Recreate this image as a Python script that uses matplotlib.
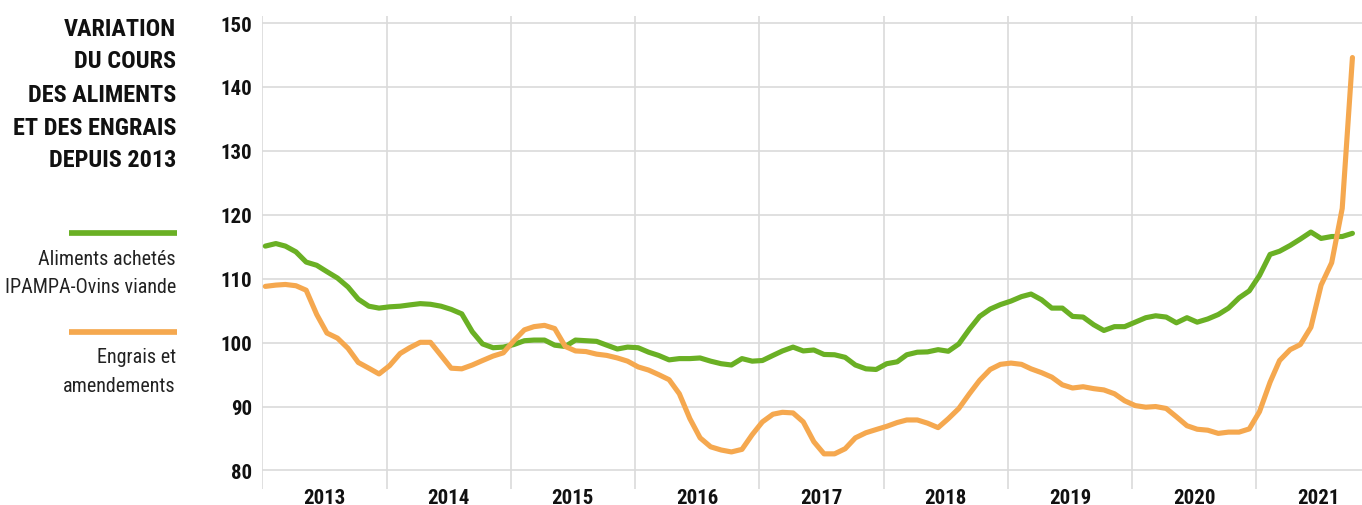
import numpy as np
import pandas as pd
import matplotlib
matplotlib.use("Agg")
import matplotlib.pyplot as plt
from matplotlib import font_manager
from matplotlib.lines import Line2D

FIG_W, FIG_H = 1362, 506

# monthly index values, Jan 2013 -> Oct 2021
MONTHS = pd.date_range("2013-01-01", periods=106, freq="MS") + pd.Timedelta(days=9)

ALIMENTS = [115.1, 115.5, 115.1, 114.2, 112.6, 112.1, 111.1, 110.1, 108.7, 106.8, 105.7, 105.4,
	105.6, 105.7, 105.9, 106.1, 106.0, 105.7, 105.2, 104.5, 101.7, 99.8, 99.2, 99.3,
	99.7, 100.3, 100.4, 100.4, 99.6, 99.4, 100.4, 100.3, 100.2, 99.6, 99.0, 99.3,
	99.2, 98.5, 98.0, 97.3, 97.5, 97.5, 97.6, 97.1, 96.7, 96.5, 97.5, 97.1,
	97.2, 98.0, 98.7, 99.3, 98.7, 98.85, 98.15, 98.1, 97.7, 96.5, 95.9, 95.8,
	96.7, 97.0, 98.1, 98.5, 98.55, 98.9, 98.65, 99.8, 102.1, 104.1, 105.25, 105.95,
	106.5, 107.2, 107.6, 106.7, 105.4, 105.4, 104.1, 104.0, 102.8, 101.9, 102.5, 102.5,
	103.2, 103.9, 104.2, 104.0, 103.1, 103.9, 103.2, 103.7, 104.4, 105.4, 107.0, 108.1,
	110.5, 113.8, 114.3, 115.2, 116.2, 117.3, 116.3, 116.6, 116.6, 117.1]

ENGRAIS = [108.8, 109.0, 109.1, 108.9, 108.2, 104.4, 101.5, 100.7, 99.1, 96.9, 96.0, 95.1,
	96.4, 98.3, 99.2, 100.05, 100.05, 98.0, 96.0, 95.9, 96.5, 97.2, 97.9, 98.4,
	100.3, 102.0, 102.5, 102.7, 102.2, 99.4, 98.7, 98.6, 98.2, 98.0, 97.6, 97.1,
	96.2, 95.7, 95.0, 94.2, 92.0, 88.1, 85.1, 83.7, 83.2, 82.9, 83.3, 85.6,
	87.6, 88.8, 89.1, 89.0, 87.6, 84.5, 82.6, 82.6, 83.4, 85.1, 85.9, 86.4,
	86.9, 87.5, 87.9, 87.9, 87.4, 86.7, 88.1, 89.7, 92.0, 94.1, 95.8, 96.6,
	96.8, 96.6, 95.9, 95.3, 94.6, 93.4, 92.9, 93.1, 92.8, 92.6, 92.0, 90.9,
	90.15, 89.9, 90.0, 89.7, 88.4, 87.0, 86.45, 86.3, 85.8, 86.0, 86.0, 86.5,
	89.2, 93.8, 97.2, 98.9, 99.7, 102.4, 109.0, 112.5, 121.0, 144.6]

YEARS = [2013, 2014, 2015, 2016, 2017, 2018, 2019, 2020, 2021]
Y_TICKS = [80, 90, 100, 110, 120, 130, 140, 150]

TITLE_LINES = ["VARIATION", "DU COURS", "DES ALIMENTS", "ET DES ENGRAIS", "DEPUIS 2013"]
LEGEND_ALIMENTS = ["Aliments achetés", "IPAMPA-Ovins viande"]
LEGEND_ENGRAIS = ["Engrais et", "amendements"]

GREEN = "#6ab024"
ORANGE = "#f5a84f"
GRID = "#dadada"
INK = "#111111"

"""
@brief looks for a narrow / condensed face among installed fonts
@return (family list, stretch, size scale)
"""
def pick_font():
	names = {f.name for f in font_manager.fontManager.ttflist}
	for cand in ["Liberation Sans Narrow", "DejaVu Sans Condensed", "Roboto Condensed",
				 "Open Sans Condensed", "Noto Sans Condensed"]:
		if cand in names:
			return [cand, "DejaVu Sans"], "normal", 1.0
	cond = [f for f in font_manager.fontManager.ttflist
			if f.stretch in ("condensed", "semi-condensed", "extra-condensed", 75, 87.5)]
	if cond:
		return [cond[0].name, "DejaVu Sans"], "condensed", 1.0
	# nothing narrow: shrink the regular face
	return ["Roboto", "DejaVu Sans"], "normal", 0.86

FONTS, STRETCH, SCALE = pick_font()

"""
@brief converts pixel coords (top-left origin) to figure fraction
"""
def px(x, y):
	return x / FIG_W, 1 - y / FIG_H

def decimal_year(dates):
	return dates.year + (dates.dayofyear - 1) / 365.0

def draw_side_panel(fig):
	baselines = [36, 68.5, 101.7, 135, 167.3]
	for line, yb in zip(TITLE_LINES, baselines):
		fig.text(*px(176, yb), line, ha="right", va="baseline", fontsize=17.5 * SCALE,
				 fontweight="bold", family=FONTS, fontstretch=STRETCH, color=INK)
	for yl, color, labels, bases in [(234, GREEN, LEGEND_ALIMENTS, [265, 293.3]),
									 (333, ORANGE, LEGEND_ENGRAIS, [363.3, 391.7])]:
		x0, y0 = px(69, yl)
		x1, _ = px(176.5, yl)
		fig.add_artist(Line2D([x0, x1], [y0, y0], color=color, lw=4.1,
							  solid_capstyle="butt", transform=fig.transFigure))
		for txt, yb in zip(labels, bases):
			fig.text(*px(176, yb), txt, ha="right", va="baseline", fontsize=14.5 * SCALE,
					 family=FONTS, fontstretch=STRETCH, color="#222222")

def main():
	fig = plt.figure(figsize=(FIG_W / 100, FIG_H / 100), dpi=100)
	left, top = px(262, 17)
	right, bottom = px(FIG_W, 490)
	ax = fig.add_axes([left, bottom, right - left, top - bottom])

	x = decimal_year(MONTHS)
	ax.plot(x, ALIMENTS, color=GREEN, lw=3.7, solid_capstyle="round", solid_joinstyle="round", zorder=3)
	ax.plot(x, ENGRAIS, color=ORANGE, lw=3.7, solid_capstyle="round", solid_joinstyle="round", zorder=4)

	ax.set_xlim(2012.998, 2013 + (FIG_W - 262) / 124.3)
	ax.set_ylim(77.1, 151.1)

	ax.set_xticks(YEARS)
	ax.set_xticklabels([])
	ax.set_xticks([yr + 0.5 for yr in YEARS], minor=True)
	ax.set_xticklabels([str(yr) for yr in YEARS], minor=True)
	ax.set_yticks(Y_TICKS)
	ax.set_yticklabels([str(v) for v in Y_TICKS])

	ax.grid(True, which="major", color=GRID, lw=1.2, zorder=0)
	ax.tick_params(which="both", length=0)
	ax.tick_params(axis="y", pad=7)
	ax.tick_params(axis="x", which="minor", pad=-1)
	for lab in ax.get_xticklabels(minor=True) + ax.get_yticklabels():
		lab.set_family(FONTS)
		lab.set_fontstretch(STRETCH)
		lab.set_fontweight("bold")
		lab.set_fontsize(15 * SCALE)
		lab.set_color(INK)
	for sp in ax.spines.values():
		sp.set_visible(False)

	draw_side_panel(fig)
	fig.savefig("out.png", dpi=100)
	plt.close(fig)

if __name__ == "__main__":
	main()
